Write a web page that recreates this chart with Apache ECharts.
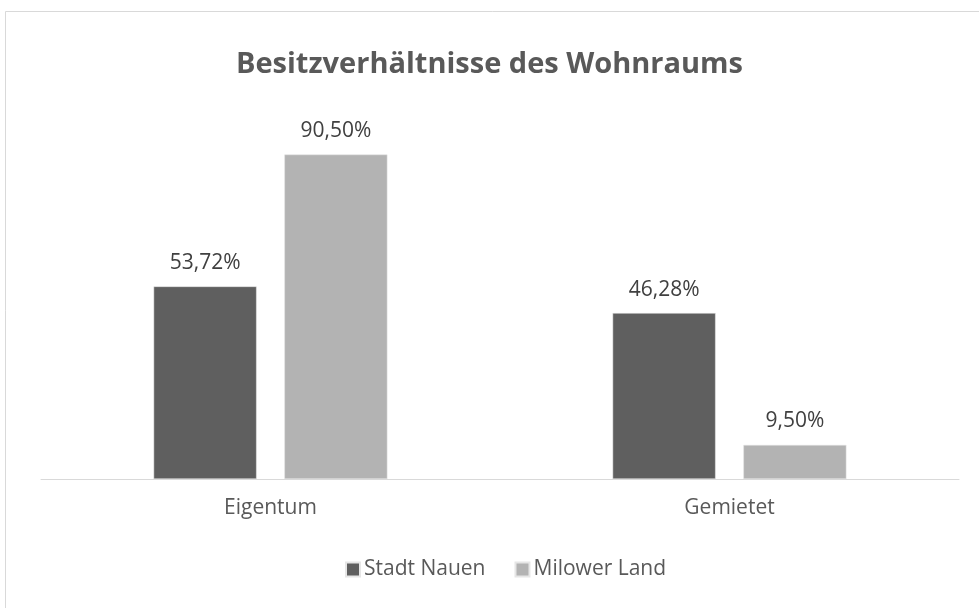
<!DOCTYPE html>
<html>
<head>
<meta charset="utf-8">
<script src="https://cdn.jsdelivr.net/npm/echarts@6/dist/echarts.min.js"></script>
<style>
  html, body { margin: 0; padding: 0; background: #ffffff; }
  #chart { width: 979px; height: 608px; }
</style>
</head>
<body>
<div id="chart"></div>
<script>
// Housing ownership shares (percent)
const categories = ['Eigentum', 'Gemietet'];
const seriesNames = ['Stadt Nauen', 'Milower Land'];
const stadtNauen = [53.72, 46.28];
const milowerLand = [90.50, 9.50];

const FONT = '"Open Sans", "Noto Sans", sans-serif';
const fmt = v => v.toFixed(2).replace('.', ',') + '%';

const chart = echarts.init(document.getElementById('chart'), null, { renderer: 'canvas' });

const labelStyle = {
  show: true,
  position: 'top',
  distance: 13,
  color: '#404040',
  fontFamily: FONT,
  fontSize: 21,
  formatter: p => fmt(p.value)
};

chart.setOption({
  animation: false,
  backgroundColor: '#ffffff',
  graphic: [{
    type: 'rect',
    shape: { x: 5.5, y: 11.5, width: 1100, height: 1100 },
    style: { fill: 'none', stroke: '#d9d9d9', lineWidth: 1 },
    silent: true
  }],
  title: {
    text: 'Besitzverhältnisse des Wohnraums',
    left: 'center',
    top: 45,
    textStyle: { color: '#595959', fontFamily: FONT, fontWeight: 'bold', fontSize: 29 }
  },
  legend: {
    data: seriesNames,
    top: 554,
    left: 340,
    itemWidth: 14,
    itemHeight: 14,
    itemGap: 29,
    icon: 'rect',
    textStyle: { color: '#595959', fontFamily: FONT, fontSize: 21, padding: [0, 0, 0, -1] }
  },
  grid: { left: 41, right: 20, top: 120.5, bottom: 129 },
  xAxis: {
    type: 'category',
    data: categories,
    axisLine: { lineStyle: { color: '#d9d9d9', width: 1 } },
    axisTick: { show: false },
    axisLabel: { color: '#595959', fontFamily: FONT, fontSize: 21, margin: 19 }
  },
  yAxis: {
    type: 'value',
    min: 0,
    max: 100,
    show: false,
    splitLine: { show: false }
  },
  series: [
    {
      name: seriesNames[0],
      type: 'bar',
      data: stadtNauen,
      barWidth: 103,
      barGap: '27%',
      itemStyle: { color: '#5f5f5f', borderColor: '#e6e6e6', borderWidth: 0.5 },
      label: labelStyle
    },
    {
      name: seriesNames[1],
      type: 'bar',
      data: milowerLand,
      barWidth: 103,
      barGap: '27%',
      itemStyle: { color: '#b3b3b3', borderColor: '#e6e6e6', borderWidth: 0.5 },
      label: labelStyle
    }
  ]
});
</script>
</body>
</html>
